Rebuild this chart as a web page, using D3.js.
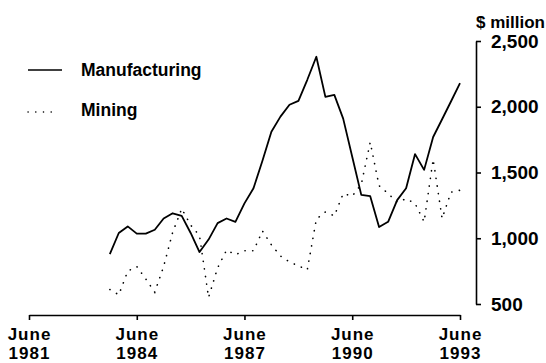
<!DOCTYPE html>
<html>
<head>
<meta charset="utf-8">
<script src="https://cdn.jsdelivr.net/npm/d3@7"></script>
<style>
  html, body { margin: 0; padding: 0; background: #fff; }
  svg { display: block; font-family: "Liberation Sans", Arial, Helvetica, sans-serif; font-weight: bold; }
</style>
</head>
<body>
<svg id="chart" width="546" height="363"></svg>
<script>
// ---- data ----
const quarters = [
  "1983-09","1983-12",
  "1984-03","1984-06","1984-09","1984-12",
  "1985-03","1985-06","1985-09","1985-12",
  "1986-03","1986-06","1986-09","1986-12",
  "1987-03","1987-06","1987-09","1987-12",
  "1988-03","1988-06","1988-09","1988-12",
  "1989-03","1989-06","1989-09","1989-12",
  "1990-03","1990-06","1990-09","1990-12",
  "1991-03","1991-06","1991-09","1991-12",
  "1992-03","1992-06","1992-09","1992-12",
  "1993-03","1993-06"
];
const manufacturing = [
  880, 1040,
  1090, 1035, 1035, 1065,
  1150, 1190, 1170, 1040,
  895, 990, 1115, 1150,
  1125, 1265, 1380, 1590,
  1810, 1925, 2015, 2045,
  2205, 2380, 2075, 2090,
  1910, 1620, 1330, 1320,
  1085, 1125, 1290, 1380,
  1640, 1520, 1770, 1905,
  2040, 2180
];
const mining = [
  610, 570,
  750, 785, 690, 590,
  785, 1045, 1225, 1100,
  1020, 550, 775, 910,
  875, 905, 905, 1055,
  950, 865, 820, 790,
  760, 1145, 1200, 1170,
  1340, 1320, 1410, 1730,
  1400, 1340, 1275, 1300,
  1265, 1125, 1600, 1150,
  1350, 1365
];
const xTickDates = ["1981-06","1984-06","1987-06","1990-06","1993-06"];
const xTickLabels = [["June","1981"],["June","1984"],["June","1987"],["June","1990"],["June","1993"]];
const yTicks = [500, 1000, 1500, 2000, 2500];
const seriesNames = ["Manufacturing", "Mining"];
const unitLabel = "$ million";

// ---- chart ----
const parse = d3.timeParse("%Y-%m");
const svg = d3.select("#chart");

const x = d3.scaleTime()
  .domain([parse("1981-06"), parse("1993-06")])
  .range([29, 460]);
const y = d3.scaleLinear()
  .domain([500, 2500])
  .range([304, 41]);

const fmt = d3.format(",");

// Y axis (right)
const yAxis = d3.axisRight(y)
  .tickValues(yTicks)
  .tickFormat(fmt)
  .tickSize(5)
  .tickSizeOuter(0)
  .tickPadding(10);
const gy = svg.append("g").attr("transform", "translate(476,0)").call(yAxis);
gy.select(".domain").attr("stroke", "#000").attr("stroke-width", 1.6);
gy.selectAll(".tick line").attr("stroke", "#000").attr("stroke-width", 1.6);
gy.selectAll(".tick text")
  .attr("fill", "#000")
  .style("font-size", "19px")
  .style("font-weight", "bold")
  .style("font-family", "'Liberation Sans', Arial, sans-serif");

svg.append("text")
  .attr("x", 476)
  .attr("y", 28)
  .attr("fill", "#000")
  .style("font-size", "17px")
  .text(unitLabel);

// X axis (bottom)
const xAxis = d3.axisBottom(x)
  .tickValues(xTickDates.map(parse))
  .tickFormat("")
  .tickSize(5)
  .tickSizeOuter(0);
const gx = svg.append("g").attr("transform", "translate(0,315)").call(xAxis);
gx.select(".domain").attr("stroke", "#000").attr("stroke-width", 1.6);
gx.selectAll(".tick line").attr("stroke", "#000").attr("stroke-width", 1.6);

gx.selectAll(".tick").each(function(d, i) {
  const g = d3.select(this);
  xTickLabels[i].forEach((s, k) => {
    g.append("text")
      .attr("fill", "#000")
      .attr("text-anchor", "middle")
      .attr("x", 0)
      .attr("y", k === 0 ? 25 : 44)
      .style("font-size", "17px")
      .style("letter-spacing", "1px")
      .style("font-weight", "bold")
      .style("font-family", "'Liberation Sans', Arial, sans-serif")
      .text(s);
  });
});

// Lines
const dates = quarters.map(parse);
const line = d3.line()
  .x((d, i) => x(dates[i]))
  .y(d => y(d));

svg.append("path")
  .datum(mining)
  .attr("d", line)
  .attr("fill", "none")
  .attr("stroke", "#000")
  .attr("stroke-width", 1.6)
  .attr("stroke-linecap", "round")
  .attr("stroke-dasharray", "0.2,7.5");

svg.append("path")
  .datum(manufacturing)
  .attr("d", line)
  .attr("fill", "none")
  .attr("stroke", "#000")
  .attr("stroke-width", 1.8)
  .attr("stroke-linejoin", "round");

// Legend
const legend = svg.append("g");
legend.append("line")
  .attr("x1", 28).attr("x2", 62).attr("y1", 70).attr("y2", 70)
  .attr("stroke", "#000").attr("stroke-width", 1.6);
legend.append("text")
  .attr("x", 81).attr("y", 76)
  .attr("fill", "#000")
  .style("font-size", "17.5px")
  .text(seriesNames[0]);
legend.append("line")
  .attr("x1", 28).attr("x2", 56).attr("y1", 112).attr("y2", 112)
  .attr("stroke", "#000").attr("stroke-width", 1.4)
  .attr("stroke-linecap", "round")
  .attr("stroke-dasharray", "0.2,7.5");
legend.append("text")
  .attr("x", 81).attr("y", 116)
  .attr("fill", "#000")
  .style("font-size", "17.5px")
  .text(seriesNames[1]);
</script>
</body>
</html>
